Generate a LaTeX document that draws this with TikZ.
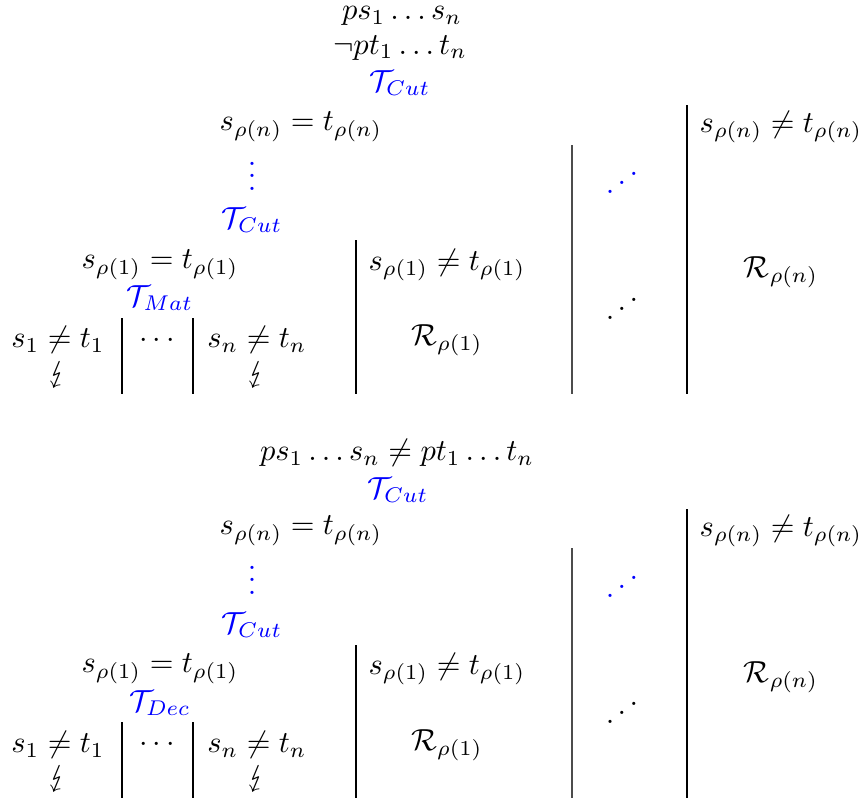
\documentclass[tikz,border=0pt]{standalone}
\usepackage{stmaryrd}
\tikzset{
  every node/.style={inner sep=0pt, outer sep=0pt},
  blu/.style={text=blue},
  vline/.style={draw=black, line width=0.35pt},
  gline/.style={draw=black!70, line width=0.45pt}
}
\begin{document}
\begin{tikzpicture}[x=0.328pt,y=-0.328pt]
\useasboundingbox (0,0) rectangle (863,802);
% ---------- top tree ----------
\node (a0) at (402,16) {$ps_1\ldots s_n$};
\node (a1) at (400,48) {$\neg pt_1\ldots t_n$};
\node[blu] (a2) at (400,83) {$\mathcal{T}_{Cut}$};
\node (a3) at (301,127) {$s_{\rho(n)}=t_{\rho(n)}$};
\node[blu, anchor=base] (a4) at (252,190) {$\vdots$};
\node[blu] (a5) at (252,220) {$\mathcal{T}_{Cut}$};
\node (a6) at (160,265) {$s_{\rho(1)}=t_{\rho(1)}$};
\node[blu] (a7) at (160,298) {$\mathcal{T}_{Mat}$};
\node (a8) at (58,340) {$s_1\neq t_1$};
\node (a9) at (58,375) {$\lightning$};
\node (a10) at (157,341) {$\cdots$};
\node (a11) at (257,340) {$s_n\neq t_n$};
\node (a12) at (257,375) {$\lightning$};
\node (a13) at (447,265) {$s_{\rho(1)}\neq t_{\rho(1)}$};
\node (a14) at (447,340) {$\mathcal{R}_{\rho(1)}$};
\node[blu] (a15) at (622,174) {\reflectbox{$\ddots$}};
\node (a16) at (622,300) {\reflectbox{$\ddots$}};
\node (a17) at (781,127) {$s_{\rho(n)}\neq t_{\rho(n)}$};
\node (a18) at (781,272) {$\mathcal{R}_{\rho(n)}$};
\coordinate (la1) at (122,318); \coordinate (lb1) at (122,394);
\coordinate (la2) at (193,318); \coordinate (lb2) at (193,394);
\coordinate (la3) at (356,240); \coordinate (lb3) at (356,394);
\coordinate (la4) at (572,145); \coordinate (lb4) at (572,394);
\coordinate (la5) at (687,105); \coordinate (lb5) at (687,394);
\draw[vline] (la1) -- (lb1);
\draw[vline] (la2) -- (lb2);
\draw[vline] (la3) -- (lb3);
\draw[gline] (la4) -- (lb4);
\draw[vline] (la5) -- (lb5);
% ---------- bottom tree ----------
\node (b1) at (397,453) {$ps_1\ldots s_n\neq pt_1\ldots t_n$};
\node[blu] (b2) at (398,490) {$\mathcal{T}_{Cut}$};
\node (b3) at (301,531) {$s_{\rho(n)}=t_{\rho(n)}$};
\node[blu, anchor=base] (b4) at (252,594) {$\vdots$};
\node[blu] (b5) at (252,625) {$\mathcal{T}_{Cut}$};
\node (b6) at (160,669) {$s_{\rho(1)}=t_{\rho(1)}$};
\node[blu] (b7) at (160,703) {$\mathcal{T}_{Dec}$};
\node (b8) at (58,745) {$s_1\neq t_1$};
\node (b9) at (58,779) {$\lightning$};
\node (b10) at (157,745) {$\cdots$};
\node (b11) at (257,745) {$s_n\neq t_n$};
\node (b12) at (257,779) {$\lightning$};
\node (b13) at (447,669) {$s_{\rho(1)}\neq t_{\rho(1)}$};
\node (b14) at (447,745) {$\mathcal{R}_{\rho(1)}$};
\node[blu] (b15) at (622,578) {\reflectbox{$\ddots$}};
\node (b16) at (622,704) {\reflectbox{$\ddots$}};
\node (b17) at (781,531) {$s_{\rho(n)}\neq t_{\rho(n)}$};
\node (b18) at (781,677) {$\mathcal{R}_{\rho(n)}$};
\coordinate (ma1) at (122,722); \coordinate (mb1) at (122,798);
\coordinate (ma2) at (193,722); \coordinate (mb2) at (193,798);
\coordinate (ma3) at (356,645); \coordinate (mb3) at (356,798);
\coordinate (ma4) at (572,548); \coordinate (mb4) at (572,798);
\coordinate (ma5) at (687,509); \coordinate (mb5) at (687,798);
\draw[vline] (ma1) -- (mb1);
\draw[vline] (ma2) -- (mb2);
\draw[vline] (ma3) -- (mb3);
\draw[gline] (ma4) -- (mb4);
\draw[vline] (ma5) -- (mb5);
\end{tikzpicture}
\end{document}
